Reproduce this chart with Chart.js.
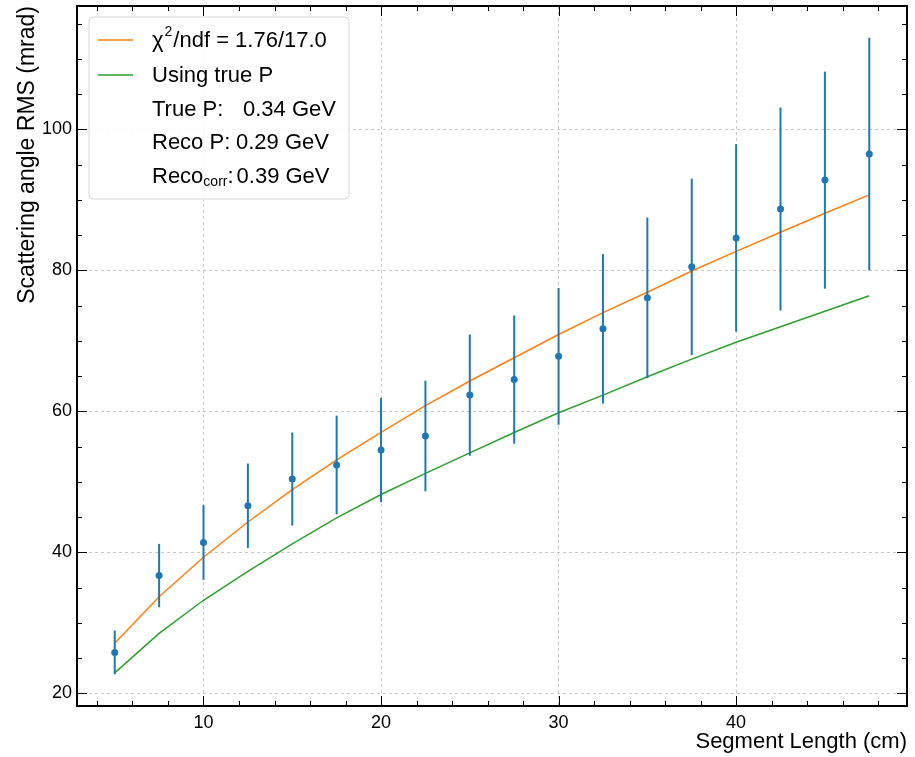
<!DOCTYPE html>
<html>
<head>
<meta charset="utf-8">
<script src="https://cdn.jsdelivr.net/npm/chart.js@4.4.0/dist/chart.umd.min.js"></script>
<style>
  html, body { margin: 0; padding: 0; background: #fff; }
  #wrap { width: 915px; height: 757px; }
</style>
</head>
<body>
<div id="wrap"><canvas id="rmsChart" width="915" height="757"></canvas></div>
<script>
// segment length (cm) and measured scattering angle RMS (mrad)
const segLength = [5, 7.5, 10, 12.5, 15, 17.5, 20, 22.5, 25, 27.5, 30, 32.5, 35, 37.5, 40, 42.5, 45, 47.5];
const rmsMeas = [25.8, 36.7, 41.4, 46.6, 50.4, 52.4, 54.5, 56.5, 62.3, 64.5, 67.8, 71.7, 76.1, 80.5, 84.6, 88.7, 92.8, 96.5];
const rmsErr = [3.1, 4.5, 5.3, 6.0, 6.6, 7.0, 7.4, 7.85, 8.6, 9.1, 9.7, 10.6, 11.4, 12.5, 13.3, 14.4, 15.4, 16.5];
// fitted curve and curve using true momentum
const fitCurve = [27.1, 33.7, 39.3, 44.3, 48.9, 53.1, 57.0, 60.8, 64.3, 67.6, 70.9, 74.0, 76.9, 79.9, 82.7, 85.4, 88.1, 90.7];
const trueCurve = [22.9, 28.5, 33.2, 37.3, 41.2, 44.9, 48.2, 51.2, 54.1, 57.0, 59.8, 62.3, 64.9, 67.4, 69.8, 72.0, 74.2, 76.4];

const xTicks = [10, 20, 30, 40];
const yTicks = [20, 40, 60, 80, 100];
const legendFit = ['\u03c7', '2', '/ndf = 1.76/17.0'];
const legendTrue = 'Using true P';
const legendInfo = [['True P:', '0.34 GeV'], ['Reco P:', '0.29 GeV']];
const legendCorr = ['Reco', 'corr', ':', '0.39 GeV'];

const FONT = '"Liberation Sans", Arial, Helvetica, sans-serif';
const BLUE = '#1f77b4', ORANGE = '#ff7f0e', GREEN = '#2ca02c';

Chart.defaults.font.family = FONT;
Chart.defaults.color = '#000';

function pts(ys) {
    return segLength.map(function (x, i) { return { x: x, y: ys[i] }; });
}

// error bars, drawn from the scales
const errorBars = {
    id: 'errorBars',
    afterDatasetsDraw(chart) {
        const c = chart.ctx, xs = chart.scales.x, ys = chart.scales.y;
        c.save();
        c.strokeStyle = BLUE;
        c.lineWidth = 2;
        segLength.forEach(function (x, i) {
            const px = xs.getPixelForValue(x);
            c.beginPath();
            c.moveTo(px, ys.getPixelForValue(rmsMeas[i] - rmsErr[i]));
            c.lineTo(px, ys.getPixelForValue(rmsMeas[i] + rmsErr[i]));
            c.stroke();
        });
        c.restore();
    }
};

// frame + inward ticks on all sides + legend box
const frame = {
    id: 'frame',
    afterDraw(chart) {
        const c = chart.ctx, a = chart.chartArea, xs = chart.scales.x, ys = chart.scales.y;
        c.save();
        c.strokeStyle = '#000';
        c.lineWidth = 1;
        c.beginPath();
        // x ticks (major every 10, minor every 2)
        for (let v = Math.ceil(xs.min / 2) * 2; v <= xs.max; v += 2) {
            const p = Math.round(xs.getPixelForValue(v)) + 0.5;
            const len = (v % 10 === 0) ? 10 : 5;
            c.moveTo(p, a.bottom); c.lineTo(p, a.bottom - len);
            c.moveTo(p, a.top); c.lineTo(p, a.top + len);
        }
        // y ticks (major every 20, minor every 5)
        for (let v = Math.ceil(ys.min / 5) * 5; v <= ys.max; v += 5) {
            const p = Math.round(ys.getPixelForValue(v)) + 0.5;
            const len = (v % 20 === 0) ? 10 : 5;
            c.moveTo(a.left, p); c.lineTo(a.left + len, p);
            c.moveTo(a.right, p); c.lineTo(a.right - len, p);
        }
        c.stroke();
        c.lineWidth = 2;
        c.strokeRect(a.left, a.top, a.right - a.left, a.bottom - a.top);

        // legend
        const bx = 89, by = 17, bw = 260, bh = 182;
        c.beginPath();
        c.roundRect(bx, by, bw, bh, 4);
        c.fillStyle = 'rgba(255,255,255,0.85)';
        c.fill();
        c.strokeStyle = '#d8d8d8';
        c.lineWidth = 1;
        c.stroke();

        const tx = 152, rows = [40, 75, 108.5, 142, 175.5];
        c.lineWidth = 1.5;
        c.strokeStyle = ORANGE;
        c.beginPath(); c.moveTo(98, rows[0]); c.lineTo(133, rows[0]); c.stroke();
        c.strokeStyle = GREEN;
        c.beginPath(); c.moveTo(98, rows[1]); c.lineTo(133, rows[1]); c.stroke();

        c.fillStyle = '#000';
        c.textBaseline = 'middle';
        c.textAlign = 'left';
        const big = '22px ' + FONT, small = '14px ' + FONT;
        // chi2 row
        c.font = big;
        let x = tx;
        c.fillText(legendFit[0], x, rows[0] + 1); x += c.measureText(legendFit[0]).width;
        c.font = small;
        c.fillText(legendFit[1], x + 1, rows[0] - 8); x += c.measureText(legendFit[1]).width + 2;
        c.font = big;
        c.fillText(legendFit[2], x, rows[0] + 1);
        // using true P
        c.fillText(legendTrue, tx, rows[1] + 1);
        // momentum rows
        c.fillText(legendInfo[0][0], tx, rows[2] + 1);
        c.fillText(legendInfo[0][1], 243, rows[2] + 1);
        c.fillText(legendInfo[1][0], tx, rows[3] + 1);
        c.fillText(legendInfo[1][1], 236, rows[3] + 1);
        x = tx;
        c.fillText(legendCorr[0], x, rows[4] + 1); x += c.measureText(legendCorr[0]).width;
        c.font = small;
        c.fillText(legendCorr[1], x, rows[4] + 7); x += c.measureText(legendCorr[1]).width;
        c.font = big;
        c.fillText(legendCorr[2], x, rows[4] + 1); x += c.measureText(legendCorr[2]).width + 3;
        c.fillText(legendCorr[3], Math.max(x, 236), rows[4] + 1);
        c.restore();
    }
};

new Chart(document.getElementById('rmsChart'), {
    type: 'scatter',
    data: {
        datasets: [{
            label: 'Using true P',
            data: pts(trueCurve),
            showLine: true,
            borderColor: GREEN,
            borderWidth: 1.5,
            pointRadius: 0,
            tension: 0,
            order: 3
        }, {
            label: 'fit',
            data: pts(fitCurve),
            showLine: true,
            borderColor: ORANGE,
            borderWidth: 1.5,
            pointRadius: 0,
            tension: 0,
            order: 2
        }, {
            label: 'data',
            data: pts(rmsMeas),
            backgroundColor: BLUE,
            borderWidth: 0,
            pointRadius: 3.5,
            order: 1
        }]
    },
    options: {
        responsive: false,
        animation: false,
        layout: { padding: { top: 6, right: 8, left: 0, bottom: 0 } },
        plugins: { legend: { display: false }, tooltip: { enabled: false } },
        scales: {
            x: {
                type: 'linear',
                min: 2.875,
                max: 49.625,
                afterBuildTicks: function (s) { s.ticks = xTicks.map(function (v) { return { value: v }; }); },
                afterFit: function (s) { s.height = 51; s.paddingLeft = 0; s.paddingRight = 0; },
                ticks: { font: { size: 18 }, padding: 6, maxRotation: 0 },
                grid: { color: '#c8c8c8', lineWidth: 1, drawTicks: false },
                border: { display: false, dash: [3, 3] },
                title: {
                    display: true,
                    text: 'Segment Length (cm)',
                    align: 'end',
                    font: { size: 22 },
                    padding: { top: 0, bottom: 2 }
                }
            },
            y: {
                type: 'linear',
                min: 18.2,
                max: 117.5,
                afterBuildTicks: function (s) { s.ticks = yTicks.map(function (v) { return { value: v }; }); },
                afterFit: function (s) { s.width = 77; s.paddingTop = 0; s.paddingBottom = 0; },
                ticks: { font: { size: 18 }, padding: 5 },
                grid: { color: '#c8c8c8', lineWidth: 1, drawTicks: false },
                border: { display: false, dash: [3, 3] },
                title: {
                    display: true,
                    text: 'Scattering angle RMS (mrad)',
                    align: 'end',
                    font: { size: 23 },
                    padding: { top: 14, bottom: 0 }
                }
            }
        }
    },
    plugins: [errorBars, frame]
});
</script>
</body>
</html>
